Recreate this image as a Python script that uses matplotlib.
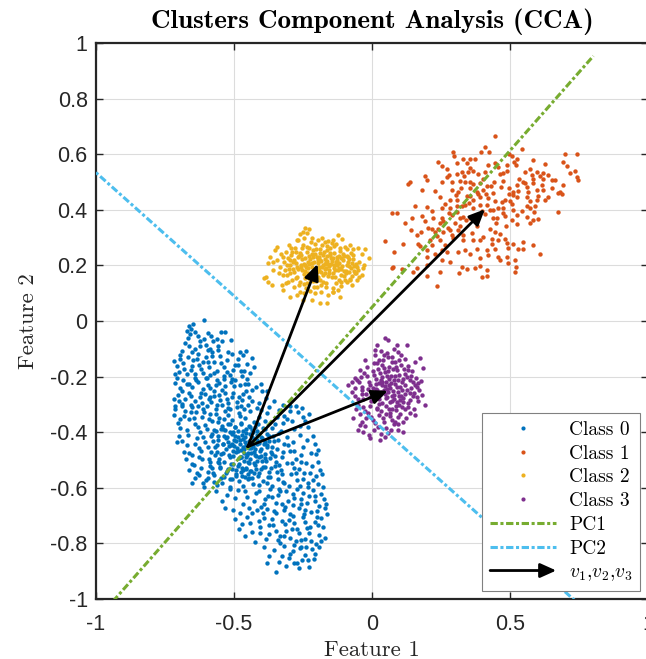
import numpy as np
import matplotlib
matplotlib.use("Agg")
import matplotlib.pyplot as plt
from matplotlib.lines import Line2D
from matplotlib.patches import FancyArrowPatch
from matplotlib.legend_handler import HandlerBase

plt.rcParams['mathtext.fontset'] = 'cm'
plt.rcParams['axes.unicode_minus'] = False

# ---------------- data ----------------
class0_xy = [
    (-0.662,-0.018),(-0.655,-0.028),(-0.671,-0.035),(-0.648,-0.012),(-0.641,-0.041),(-0.659,-0.047),(-0.608,0.004),(-0.632,-0.055),
    (-0.596,-0.043),(-0.548,-0.039),(-0.531,-0.040),(-0.584,-0.054),(-0.609,-0.066),(-0.676,-0.078),(-0.662,-0.091),(-0.624,-0.090),
    (-0.601,-0.085),(-0.558,-0.090),(-0.512,-0.070),(-0.542,-0.073),(-0.588,-0.101),(-0.690,-0.108),(-0.478,-0.111),(-0.640,-0.100),(-0.575,-0.072),
    (-0.717,-0.145),(-0.708,-0.162),(-0.694,-0.122),(-0.683,-0.151),(-0.668,-0.128),(-0.655,-0.176),(-0.647,-0.139),(-0.632,-0.118),
    (-0.627,-0.158),(-0.611,-0.187),(-0.603,-0.131),(-0.592,-0.164),(-0.579,-0.112),(-0.571,-0.146),(-0.562,-0.181),(-0.549,-0.127),
    (-0.538,-0.166),(-0.527,-0.140),(-0.516,-0.193),(-0.506,-0.117),(-0.498,-0.158),(-0.487,-0.137),(-0.475,-0.179),(-0.466,-0.121),
    (-0.452,-0.153),(-0.441,-0.188),(-0.436,-0.134),(-0.428,-0.166),(-0.472,-0.198),(-0.586,-0.196),(-0.641,-0.192),(-0.699,-0.185),
    (-0.557,-0.105),(-0.618,-0.172),(-0.538,-0.199),(-0.503,-0.175),(-0.672,-0.190),(-0.521,-0.111),(-0.455,-0.108),(-0.595,-0.149),
    (-0.683,-0.214),(-0.527,-0.281),(-0.611,-0.243),(-0.452,-0.207),(-0.703,-0.266),(-0.566,-0.229),(-0.489,-0.293),(-0.641,-0.288),
    (-0.398,-0.251),(-0.714,-0.223),(-0.545,-0.247),(-0.597,-0.206),(-0.468,-0.262),(-0.662,-0.258),(-0.512,-0.218),(-0.433,-0.289),
    (-0.622,-0.274),(-0.689,-0.297),(-0.556,-0.266),(-0.384,-0.276),(-0.631,-0.221),(-0.478,-0.232),(-0.584,-0.291),(-0.696,-0.241),
    (-0.537,-0.209),(-0.419,-0.238),(-0.651,-0.236),(-0.503,-0.258),(-0.573,-0.252),(-0.446,-0.272),(-0.719,-0.279),(-0.605,-0.262),
    (-0.521,-0.296),(-0.672,-0.227),(-0.459,-0.226),(-0.593,-0.231),(-0.408,-0.295),(-0.642,-0.204),(-0.549,-0.285),(-0.496,-0.211),
    (-0.678,-0.279),(-0.617,-0.294),(-0.531,-0.235),(-0.472,-0.284),(-0.561,-0.212),(-0.706,-0.205),(-0.436,-0.247),(-0.587,-0.272),
    (-0.655,-0.268),(-0.509,-0.275),
    (-0.712,-0.318),(-0.664,-0.352),(-0.598,-0.307),(-0.541,-0.388),(-0.483,-0.331),(-0.427,-0.364),(-0.372,-0.309),(-0.318,-0.342),
    (-0.262,-0.377),(-0.694,-0.386),(-0.637,-0.329),(-0.579,-0.361),(-0.522,-0.314),(-0.466,-0.396),(-0.409,-0.346),(-0.353,-0.371),
    (-0.297,-0.323),(-0.241,-0.358),(-0.681,-0.341),(-0.622,-0.398),(-0.566,-0.333),(-0.508,-0.357),(-0.451,-0.302),(-0.395,-0.384),
    (-0.338,-0.319),(-0.283,-0.389),(-0.227,-0.336),(-0.703,-0.367),(-0.651,-0.311),(-0.606,-0.374),(-0.553,-0.349),(-0.497,-0.381),
    (-0.441,-0.324),(-0.386,-0.358),(-0.331,-0.394),(-0.276,-0.305),(-0.671,-0.393),(-0.617,-0.344),(-0.561,-0.302),(-0.514,-0.371),
    (-0.459,-0.348),(-0.418,-0.312),(-0.364,-0.386),(-0.307,-0.354),(-0.253,-0.312),(-0.719,-0.339),(-0.643,-0.371),(-0.588,-0.336),
    (-0.531,-0.325),(-0.474,-0.369),(-0.436,-0.392),(-0.379,-0.331),(-0.322,-0.366),(-0.688,-0.304),(-0.629,-0.382),(-0.572,-0.391),
    (-0.489,-0.308),(-0.447,-0.377),(-0.401,-0.321),(-0.345,-0.347),(-0.289,-0.358),(-0.657,-0.329),(-0.536,-0.351),(-0.503,-0.398),
    (-0.462,-0.317),(-0.423,-0.381),(-0.592,-0.353),(-0.611,-0.317),(-0.545,-0.376),(-0.478,-0.342),
    (-0.698,-0.412),(-0.672,-0.447),(-0.651,-0.483),(-0.633,-0.421),(-0.618,-0.468),(-0.604,-0.436),(-0.592,-0.497),(-0.581,-0.408),
    (-0.569,-0.455),(-0.558,-0.428),(-0.546,-0.479),(-0.538,-0.414),(-0.529,-0.462),(-0.521,-0.437),(-0.513,-0.491),(-0.506,-0.405),
    (-0.499,-0.449),(-0.492,-0.472),(-0.486,-0.418),(-0.479,-0.441),(-0.473,-0.488),(-0.468,-0.426),(-0.462,-0.459),(-0.457,-0.403),
    (-0.451,-0.474),(-0.446,-0.432),(-0.441,-0.496),(-0.436,-0.417),(-0.430,-0.451),(-0.424,-0.483),(-0.418,-0.409),(-0.411,-0.438),
    (-0.404,-0.466),(-0.397,-0.422),(-0.389,-0.494),(-0.381,-0.445),(-0.372,-0.413),(-0.364,-0.477),(-0.355,-0.431),(-0.346,-0.459),
    (-0.337,-0.404),(-0.327,-0.488),(-0.318,-0.442),(-0.308,-0.418),(-0.297,-0.467),(-0.286,-0.434),(-0.274,-0.496),(-0.262,-0.411),
    (-0.249,-0.454),(-0.236,-0.428),(-0.221,-0.476),(-0.206,-0.441),(-0.194,-0.463),
    (-0.512,-0.447),(-0.488,-0.458),(-0.471,-0.409),(-0.455,-0.488),(-0.447,-0.458),(-0.433,-0.438),(-0.423,-0.462),(-0.415,-0.428),
    (-0.494,-0.431),(-0.503,-0.468),(-0.476,-0.463),(-0.459,-0.435),(-0.482,-0.493),(-0.527,-0.418),(-0.541,-0.442),(-0.562,-0.470),
    (-0.575,-0.431),(-0.596,-0.452),(-0.612,-0.417),(-0.641,-0.442),(-0.664,-0.474),(-0.687,-0.431),(-0.401,-0.487),(-0.387,-0.436),
    (-0.361,-0.452),(-0.341,-0.427),(-0.322,-0.471),(-0.303,-0.446),(-0.281,-0.468),(-0.256,-0.483),(-0.439,-0.474),(-0.465,-0.474),
    (-0.517,-0.482),(-0.554,-0.498),(-0.626,-0.491),(-0.675,-0.498),(-0.368,-0.494),
    (-0.652,-0.513),(-0.633,-0.547),(-0.618,-0.528),(-0.601,-0.571),(-0.587,-0.506),(-0.574,-0.553),(-0.561,-0.589),(-0.549,-0.524),
    (-0.537,-0.561),(-0.526,-0.538),(-0.514,-0.597),(-0.503,-0.515),(-0.492,-0.549),(-0.481,-0.577),(-0.471,-0.527),(-0.461,-0.562),
    (-0.451,-0.508),(-0.441,-0.541),(-0.432,-0.586),(-0.423,-0.519),(-0.413,-0.556),(-0.403,-0.531),(-0.394,-0.574),(-0.384,-0.503),
    (-0.374,-0.544),(-0.364,-0.592),(-0.353,-0.523),(-0.342,-0.567),(-0.331,-0.536),(-0.319,-0.581),(-0.307,-0.512),(-0.295,-0.552),
    (-0.283,-0.529),(-0.271,-0.571),(-0.258,-0.507),(-0.245,-0.546),(-0.232,-0.583),(-0.218,-0.521),(-0.204,-0.559),(-0.189,-0.536),
    (-0.612,-0.582),(-0.578,-0.527),(-0.544,-0.583),(-0.509,-0.568),(-0.486,-0.521),(-0.467,-0.593),(-0.446,-0.564),(-0.428,-0.547),
    (-0.409,-0.589),(-0.389,-0.524),(-0.369,-0.562),(-0.348,-0.508),(-0.326,-0.551),(-0.302,-0.594),(-0.277,-0.548),(-0.251,-0.568),
    (-0.225,-0.548),(-0.197,-0.588),(-0.642,-0.566),(-0.596,-0.542),(-0.556,-0.511),(-0.521,-0.531),(-0.457,-0.531),(-0.418,-0.502),
    (-0.381,-0.583),(-0.337,-0.517),(-0.289,-0.511),(-0.262,-0.592),(-0.238,-0.512),(-0.476,-0.544),
    (-0.566,-0.612),(-0.543,-0.648),(-0.524,-0.627),(-0.505,-0.681),(-0.487,-0.609),(-0.469,-0.659),(-0.452,-0.634),(-0.436,-0.692),
    (-0.419,-0.617),(-0.403,-0.668),(-0.387,-0.642),(-0.371,-0.603),(-0.356,-0.683),(-0.341,-0.626),(-0.326,-0.657),(-0.311,-0.613),
    (-0.296,-0.694),(-0.281,-0.638),(-0.266,-0.671),(-0.251,-0.619),(-0.236,-0.653),(-0.221,-0.687),(-0.206,-0.628),(-0.191,-0.664),
    (-0.175,-0.641),(-0.163,-0.696),(-0.532,-0.673),(-0.497,-0.638),(-0.461,-0.612),(-0.428,-0.649),(-0.394,-0.692),(-0.364,-0.632),
    (-0.333,-0.611),(-0.304,-0.647),(-0.273,-0.606),(-0.244,-0.679),(-0.213,-0.607),(-0.184,-0.621),(-0.479,-0.691),(-0.411,-0.611),
    (-0.379,-0.676),(-0.348,-0.655),(-0.318,-0.681),(-0.287,-0.663),(-0.258,-0.641),(-0.229,-0.628),(-0.199,-0.682),(-0.444,-0.672),
    (-0.513,-0.606),(-0.171,-0.672),
    (-0.497,-0.713),(-0.482,-0.748),(-0.461,-0.773),(-0.443,-0.727),(-0.424,-0.796),(-0.407,-0.742),(-0.391,-0.708),(-0.374,-0.766),
    (-0.357,-0.734),(-0.341,-0.789),(-0.326,-0.719),(-0.311,-0.754),(-0.296,-0.781),(-0.281,-0.728),(-0.266,-0.761),(-0.251,-0.706),
    (-0.236,-0.744),(-0.221,-0.792),(-0.206,-0.722),(-0.191,-0.768),(-0.178,-0.741),(-0.434,-0.759),(-0.384,-0.783),(-0.348,-0.757),
    (-0.316,-0.731),(-0.288,-0.703),(-0.258,-0.786),(-0.229,-0.764),(-0.199,-0.704),(-0.172,-0.779),(-0.472,-0.731),(-0.411,-0.718),
    (-0.334,-0.799),(-0.273,-0.747),(-0.244,-0.723),
    (-0.393,-0.812),(-0.372,-0.846),(-0.355,-0.823),(-0.349,-0.903),(-0.336,-0.868),(-0.318,-0.809),(-0.302,-0.851),(-0.288,-0.829),
    (-0.273,-0.872),(-0.259,-0.814),(-0.244,-0.843),(-0.231,-0.861),(-0.218,-0.821),(-0.205,-0.839),(-0.192,-0.812),(-0.266,-0.889),
    (-0.229,-0.884),(-0.312,-0.882),(-0.381,-0.871),(-0.284,-0.805),
    (-0.547,-0.388),(-0.463,-0.502),(-0.412,-0.371),(-0.528,-0.547),(-0.381,-0.452),(-0.496,-0.412),(-0.569,-0.481),(-0.437,-0.539),
    (-0.402,-0.418),(-0.474,-0.366),(-0.519,-0.451),(-0.455,-0.447),(-0.366,-0.528),(-0.583,-0.415),(-0.431,-0.398),(-0.507,-0.532),
    (-0.448,-0.569),(-0.389,-0.387),(-0.536,-0.506),(-0.479,-0.428),(-0.421,-0.487),(-0.558,-0.362),(-0.377,-0.561),(-0.491,-0.556),
    (-0.443,-0.381),(-0.515,-0.398),(-0.466,-0.536),(-0.397,-0.503),(-0.552,-0.527),(-0.428,-0.423),(-0.484,-0.469),(-0.358,-0.413),
    (-0.539,-0.443),(-0.458,-0.389),(-0.409,-0.545),(-0.575,-0.546),(-0.502,-0.487),(-0.447,-0.511),(-0.386,-0.477),(-0.523,-0.372),
    (-0.469,-0.452),(-0.416,-0.443),(-0.351,-0.487),(-0.563,-0.447),(-0.498,-0.381),(-0.433,-0.566),(-0.481,-0.513),(-0.402,-0.462),
    (-0.541,-0.476),(-0.452,-0.481),(-0.372,-0.431),(-0.511,-0.516),(-0.427,-0.512),(-0.487,-0.397),(-0.557,-0.506),(-0.439,-0.458),
    (-0.394,-0.525),(-0.529,-0.421),(-0.472,-0.558),(-0.418,-0.396),(-0.346,-0.543),(-0.583,-0.472),(-0.506,-0.442),(-0.461,-0.418),
    (-0.381,-0.406),(-0.548,-0.563),(-0.493,-0.537),(-0.426,-0.471),(-0.366,-0.471),(-0.515,-0.567),(-0.456,-0.527),(-0.408,-0.488),
    (-0.533,-0.392),(-0.476,-0.491),(-0.442,-0.407),(-0.391,-0.442),(-0.565,-0.395),(-0.501,-0.428),(-0.448,-0.551),(-0.422,-0.531),
    (-0.668,-0.061),(-0.623,-0.072),(-0.578,-0.125),(-0.694,-0.138),(-0.651,-0.161),(-0.603,-0.205),(-0.547,-0.152),(-0.508,-0.208),
    (-0.712,-0.192),(-0.664,-0.228),(-0.619,-0.258),(-0.571,-0.187),(-0.532,-0.259),(-0.487,-0.157),(-0.458,-0.253),(-0.701,-0.288),
    (-0.656,-0.302),(-0.608,-0.328),(-0.565,-0.317),(-0.521,-0.337),(-0.482,-0.272),(-0.687,-0.251),(-0.638,-0.211),(-0.588,-0.242),
    (-0.553,-0.224),(-0.499,-0.235),(-0.463,-0.181),(-0.676,-0.325),(-0.629,-0.305),(-0.591,-0.281),(-0.545,-0.302),(-0.714,-0.305),
    (-0.682,-0.172),(-0.635,-0.137),(-0.596,-0.103),(-0.561,-0.066),(-0.525,-0.183),(-0.448,-0.228),(-0.652,-0.112),(-0.612,-0.147),
    (-0.573,-0.271),(-0.514,-0.318),(-0.474,-0.305),(-0.696,-0.354),(-0.645,-0.348),(-0.598,-0.387),(-0.557,-0.413),(-0.706,-0.436),
    (-0.668,-0.409),(-0.626,-0.457),(-0.681,-0.471),(-0.644,-0.519),(-0.617,-0.497),(-0.586,-0.523),(-0.663,-0.537),(-0.627,-0.553),
    (-0.594,-0.566),(-0.651,-0.584),(-0.608,-0.598),(-0.572,-0.578),
    (-0.338,-0.603),(-0.287,-0.622),(-0.233,-0.598),(-0.314,-0.668),(-0.259,-0.657),(-0.208,-0.646),(-0.361,-0.712),(-0.302,-0.717),
    (-0.247,-0.695),(-0.196,-0.734),(-0.333,-0.773),(-0.276,-0.792),(-0.224,-0.742),(-0.185,-0.791),(-0.298,-0.837),(-0.252,-0.861),
    (-0.211,-0.857),(-0.377,-0.629),(-0.321,-0.578),(-0.265,-0.533),(-0.213,-0.573),(-0.392,-0.658),(-0.347,-0.689),(-0.291,-0.747),
    (-0.238,-0.812),(-0.418,-0.681),(-0.373,-0.734),(-0.318,-0.775),(-0.262,-0.818),(-0.452,-0.706),(-0.406,-0.762),(-0.327,-0.846),
    (-0.281,-0.869),(-0.243,-0.783),(-0.203,-0.801),(-0.183,-0.708),(-0.167,-0.658),(-0.176,-0.598),(-0.182,-0.552),(-0.194,-0.506),
    (-0.203,-0.478),(-0.215,-0.413),(-0.232,-0.382),(-0.251,-0.347),(-0.268,-0.326),(-0.296,-0.307),(-0.322,-0.302),(-0.356,-0.289),
    (-0.381,-0.253),(-0.401,-0.226),
]

class1_xy = [
    (0.446,0.667),(0.409,0.625),(0.425,0.607),(0.394,0.607),(0.542,0.620),(0.295,0.607),(0.699,0.602),(0.742,0.602),(0.498,0.600),(0.506,0.595),
    (0.298,0.592),(0.331,0.582),(0.355,0.583),(0.373,0.583),(0.240,0.571),(0.252,0.559),(0.307,0.567),(0.343,0.570),(0.524,0.583),(0.514,0.571),
    (0.582,0.580),(0.421,0.561),(0.446,0.567),(0.458,0.555),(0.626,0.565),(0.693,0.571),(0.705,0.559),(0.490,0.561),
    (0.355,0.549),(0.367,0.541),(0.349,0.535),(0.325,0.535),(0.309,0.529),(0.279,0.525),(0.270,0.517),(0.192,0.523),(0.200,0.507),(0.385,0.529),
    (0.409,0.537),(0.476,0.531),(0.488,0.540),(0.572,0.547),(0.597,0.535),(0.621,0.531),(0.609,0.522),(0.639,0.525),(0.651,0.507),(0.579,0.525),
    (0.548,0.501),(0.717,0.531),(0.736,0.541),(0.744,0.519),(0.748,0.507),(0.663,0.507),(0.585,0.510),
    (0.138,0.501),(0.132,0.493),(0.252,0.499),(0.289,0.501),(0.319,0.504),(0.337,0.499),(0.355,0.499),(0.367,0.493),(0.391,0.495),(0.415,0.486),
    (0.442,0.501),(0.476,0.504),(0.524,0.489),(0.554,0.495),(0.585,0.495),(0.615,0.489),(0.621,0.471),(0.693,0.489),(0.681,0.465),(0.180,0.471),
    (0.228,0.469),(0.289,0.471),(0.313,0.465),(0.355,0.477),(0.379,0.465),(0.403,0.471),(0.440,0.461),(0.498,0.477),(0.512,0.465),(0.530,0.467),
    (0.566,0.465),(0.597,0.471),
    (0.246,0.447),(0.283,0.435),(0.307,0.437),(0.343,0.449),(0.367,0.435),(0.391,0.445),(0.421,0.441),(0.446,0.431),(0.470,0.429),(0.500,0.431),
    (0.512,0.453),(0.560,0.447),(0.597,0.435),(0.627,0.435),(0.675,0.459),(0.687,0.457),(0.156,0.414),(0.198,0.411),(0.252,0.407),(0.283,0.405),
    (0.309,0.413),(0.337,0.417),(0.367,0.407),(0.391,0.417),(0.428,0.399),(0.458,0.405),(0.476,0.408),(0.512,0.399),(0.560,0.413),(0.572,0.405),
    (0.591,0.413),(0.675,0.393),
    (0.071,0.390),(0.092,0.389),(0.144,0.369),(0.180,0.378),(0.222,0.372),(0.252,0.371),(0.289,0.381),(0.319,0.372),(0.331,0.375),(0.355,0.371),
    (0.379,0.378),(0.409,0.384),(0.440,0.369),(0.452,0.369),(0.482,0.377),(0.506,0.365),(0.524,0.381),(0.560,0.375),(0.585,0.365),(0.603,0.366),
    (0.572,0.351),(0.524,0.348),(0.301,0.351),(0.319,0.341),(0.246,0.351),(0.204,0.333),(0.216,0.330),(0.277,0.336),
    (0.228,0.320),(0.234,0.305),(0.258,0.320),(0.283,0.327),(0.313,0.327),(0.289,0.308),(0.331,0.308),(0.391,0.293),(0.403,0.302),(0.446,0.320),
    (0.464,0.314),(0.482,0.296),(0.458,0.290),(0.434,0.296),(0.367,0.293),(0.331,0.290),(0.210,0.290),(0.162,0.308),(0.168,0.278),(0.246,0.290),
    (0.114,0.276),(0.047,0.288),(0.548,0.283),(0.512,0.276),(0.488,0.281),(0.264,0.272),
    (0.174,0.270),(0.198,0.254),(0.216,0.272),(0.252,0.257),(0.337,0.257),(0.379,0.260),(0.415,0.257),(0.446,0.260),(0.494,0.264),(0.530,0.260),
    (0.548,0.260),(0.585,0.272),(0.609,0.242),(0.080,0.248),(0.198,0.230),(0.228,0.242),(0.270,0.248),(0.313,0.248),(0.355,0.240),(0.391,0.228),
    (0.421,0.236),(0.458,0.230),(0.488,0.230),(0.518,0.220),(0.494,0.208),
    (0.071,0.190),(0.076,0.196),(0.107,0.188),(0.162,0.190),(0.198,0.202),(0.252,0.218),(0.283,0.212),(0.325,0.194),(0.343,0.188),(0.373,0.190),
    (0.391,0.199),(0.415,0.182),(0.464,0.220),(0.521,0.194),(0.518,0.176),(0.147,0.176),(0.246,0.178),(0.316,0.172),(0.397,0.158),(0.418,0.161),
    (0.200,0.161),(0.237,0.125),
    (0.303,0.452),(0.352,0.423),(0.412,0.458),(0.467,0.481),(0.533,0.511),(0.278,0.389),(0.341,0.362),(0.398,0.397),(0.451,0.352),(0.509,0.422),
    (0.562,0.482),(0.618,0.512),(0.238,0.331),(0.294,0.297),(0.363,0.317),(0.427,0.332),(0.486,0.341),(0.543,0.394),(0.603,0.451),(0.652,0.478),
    (0.264,0.421),(0.324,0.477),(0.385,0.458),(0.431,0.487),(0.482,0.437),(0.571,0.431),(0.637,0.447),(0.218,0.396),(0.309,0.391),(0.356,0.451),
    (0.417,0.419),(0.473,0.389),(0.527,0.446),(0.588,0.392),(0.191,0.358),(0.259,0.361),(0.326,0.413),(0.382,0.341),(0.438,0.398),(0.497,0.458),
    (0.553,0.537),(0.271,0.547),(0.334,0.521),(0.403,0.512),(0.463,0.528),(0.523,0.562),(0.178,0.321),(0.141,0.326),(0.121,0.351),(0.436,0.278),
]

class2_xy = [
    (-0.243,0.335),(-0.227,0.331),(-0.249,0.321),(-0.234,0.315),(-0.219,0.297),(-0.261,0.312),(-0.267,0.291),(-0.182,0.300),(-0.170,0.285),
    (-0.146,0.279),(-0.122,0.309),(-0.110,0.295),(-0.140,0.291),(-0.080,0.273),(-0.068,0.259),(-0.050,0.261),(-0.025,0.258),(-0.011,0.225),
    (-0.037,0.240),(-0.345,0.267),(-0.351,0.255),(-0.370,0.231),(-0.357,0.213),(-0.376,0.207),(-0.384,0.159),(-0.391,0.153),(-0.376,0.141),
    (-0.364,0.129),(-0.327,0.129),(-0.321,0.111),(-0.297,0.087),(-0.273,0.093),(-0.249,0.075),(-0.219,0.075),(-0.188,0.063),(-0.164,0.063),
    (-0.116,0.087),(-0.140,0.105),(-0.092,0.141),(-0.074,0.129),(-0.056,0.147),(-0.050,0.183),(-0.031,0.189),(-0.062,0.171),
    (-0.312,0.248),(-0.296,0.219),(-0.287,0.187),(-0.279,0.262),(-0.271,0.158),(-0.264,0.234),(-0.257,0.201),(-0.251,0.272),(-0.246,0.132),
    (-0.241,0.179),(-0.236,0.247),(-0.231,0.214),(-0.226,0.151),(-0.221,0.283),(-0.217,0.196),(-0.212,0.231),(-0.207,0.167),(-0.203,0.259),
    (-0.198,0.122),(-0.194,0.208),(-0.189,0.243),(-0.185,0.178),(-0.181,0.274),(-0.176,0.141),(-0.172,0.224),(-0.167,0.192),(-0.163,0.257),
    (-0.158,0.163),(-0.153,0.236),(-0.148,0.205),(-0.143,0.118),(-0.138,0.268),(-0.133,0.182),(-0.127,0.221),(-0.121,0.149),(-0.115,0.251),
    (-0.108,0.197),(-0.101,0.233),(-0.094,0.172),(-0.086,0.214),(-0.077,0.189),(-0.068,0.238),(-0.059,0.205),
    (-0.335,0.193),(-0.322,0.167),(-0.318,0.211),(-0.305,0.141),(-0.301,0.273),(-0.293,0.236),(-0.284,0.121),(-0.276,0.209),(-0.268,0.188),
    (-0.261,0.103),(-0.253,0.222),(-0.248,0.169),(-0.243,0.201),(-0.233,0.189),(-0.228,0.235),(-0.223,0.109),(-0.219,0.172),(-0.214,0.256),
    (-0.209,0.213),(-0.205,0.187),(-0.201,0.232),(-0.196,0.158),(-0.191,0.196),(-0.187,0.221),(-0.183,0.131),(-0.178,0.203),(-0.174,0.249),
    (-0.169,0.174),(-0.165,0.212),(-0.161,0.093),(-0.156,0.197),(-0.151,0.263),(-0.146,0.159),(-0.141,0.227),(-0.136,0.201),(-0.131,0.136),
    (-0.124,0.182),(-0.118,0.235),(-0.112,0.165),(-0.105,0.219),(-0.098,0.147),(-0.091,0.258),(-0.083,0.198),(-0.073,0.162),(-0.064,0.181),
    (-0.046,0.214),(-0.038,0.167),(-0.029,0.203),
    (-0.344,0.221),(-0.328,0.241),(-0.315,0.183),(-0.307,0.203),(-0.298,0.173),(-0.289,0.249),(-0.281,0.219),(-0.273,0.195),(-0.262,0.245),
    (-0.255,0.183),(-0.244,0.228),(-0.238,0.193),(-0.229,0.261),(-0.216,0.207),(-0.208,0.242),(-0.199,0.176),(-0.192,0.229),(-0.182,0.195),
    (-0.171,0.206),(-0.162,0.233),(-0.154,0.184),(-0.145,0.215),(-0.137,0.245),(-0.128,0.203),(-0.119,0.191),(-0.111,0.227),(-0.103,0.181),
    (-0.088,0.229),(-0.081,0.146),(-0.071,0.209),(-0.055,0.193),(-0.047,0.159),(-0.262,0.142),(-0.239,0.117),(-0.213,0.143),(-0.186,0.106),
    (-0.167,0.124),(-0.142,0.103),(-0.125,0.113),(-0.289,0.146),(-0.272,0.292),(-0.248,0.298),(-0.197,0.291),(-0.159,0.287),(-0.129,0.276),
    (-0.099,0.266),
    (-0.297,0.201),(-0.241,0.155),(-0.188,0.258),(-0.139,0.191),(-0.083,0.222),(-0.268,0.231),(-0.214,0.179),(-0.162,0.217),(-0.112,0.139),
    (-0.065,0.197),(-0.308,0.165),(-0.252,0.264),(-0.203,0.145),(-0.152,0.243),(-0.096,0.181),(-0.283,0.175),(-0.229,0.206),(-0.176,0.165),
    (-0.121,0.207),(-0.075,0.245),(-0.321,0.229),(-0.266,0.128),(-0.218,0.241),(-0.168,0.138),(-0.117,0.262),(-0.058,0.171),(-0.292,0.262),
    (-0.236,0.137),(-0.184,0.216),(-0.133,0.157),(-0.089,0.201),(-0.313,0.136),(-0.259,0.194),(-0.207,0.278),(-0.155,0.174),(-0.106,0.242),
    (-0.277,0.155),(-0.224,0.224),(-0.171,0.188),(-0.126,0.229),(-0.079,0.152),(-0.336,0.172),(-0.286,0.214),(-0.232,0.172),(-0.193,0.183),
    (-0.148,0.228),(-0.102,0.163),(-0.256,0.239),(-0.211,0.124),(-0.158,0.205),(-0.113,0.187),(-0.069,0.222),(-0.299,0.187),(-0.246,0.206),
    (-0.197,0.219),(-0.143,0.173),(-0.092,0.235),(-0.274,0.249),(-0.227,0.153),(-0.179,0.238),(-0.131,0.214),(-0.085,0.175),(-0.304,0.226),
    (-0.235,0.267),(-0.164,0.268),(-0.114,0.127),(-0.188,0.148),(-0.245,0.101),(-0.206,0.099),(-0.358,0.185),
]

class3_xy = [
    (0.047,-0.062),(0.059,-0.068),(0.017,-0.086),(0.089,-0.086),(0.011,-0.104),(0.126,-0.086),(0.156,-0.146),(0.174,-0.134),(0.186,-0.170),
    (0.168,-0.224),(0.192,-0.302),(0.156,-0.338),(0.162,-0.272),(0.114,-0.362),(0.095,-0.392),(0.047,-0.416),(0.029,-0.428),(-0.007,-0.422),
    (-0.031,-0.398),(-0.050,-0.392),(-0.068,-0.350),(-0.043,-0.374),(-0.086,-0.230),(-0.074,-0.218),(-0.062,-0.206),(-0.043,-0.176),
    (-0.025,-0.140),(-0.037,-0.248),(0.059,-0.404),(0.114,-0.398),
    (0.012,-0.121),(0.031,-0.108),(0.054,-0.115),(0.072,-0.129),(0.093,-0.112),(0.118,-0.137),(0.041,-0.141),(0.083,-0.149),(0.006,-0.152),
    (0.131,-0.161),(0.104,-0.158),(-0.017,-0.167),(0.022,-0.172),(0.062,-0.164),(0.146,-0.181),(0.047,-0.183),(0.091,-0.178),(0.121,-0.191),
    (-0.029,-0.188),(0.008,-0.196),(0.035,-0.203),(0.069,-0.199),(0.112,-0.207),(0.138,-0.214),(-0.055,-0.211),(-0.011,-0.218),(0.024,-0.224),
    (0.051,-0.219),(0.083,-0.228),(0.101,-0.236),(0.156,-0.231),(-0.038,-0.239),(0.014,-0.243),(0.042,-0.248),(0.066,-0.241),(0.094,-0.256),
    (0.127,-0.249),(-0.021,-0.262),(0.029,-0.267),(0.056,-0.272),(0.079,-0.265),(0.113,-0.278),(0.147,-0.271),(-0.052,-0.282),(-0.004,-0.289),
    (0.038,-0.294),(0.071,-0.286),(0.098,-0.301),(0.131,-0.296),(-0.031,-0.309),(0.017,-0.314),(0.049,-0.306),(0.086,-0.321),(0.119,-0.317),
    (-0.013,-0.332),(0.027,-0.338),(0.064,-0.343),(0.101,-0.336),(0.004,-0.357),(0.043,-0.362),(0.078,-0.371),(-0.026,-0.376),(0.021,-0.383),
    (0.058,-0.131),(0.106,-0.124),(0.027,-0.139),(0.075,-0.171),(0.002,-0.181),(0.131,-0.175),(0.053,-0.197),(0.095,-0.211),(0.161,-0.204),
    (-0.041,-0.203),(0.037,-0.229),(0.068,-0.223),(0.118,-0.229),(-0.007,-0.231),(0.059,-0.257),(0.089,-0.238),(0.141,-0.242),(0.009,-0.271),
    (0.047,-0.261),(0.106,-0.268),(-0.038,-0.263),(0.081,-0.281),(0.024,-0.298),(0.111,-0.291),(0.061,-0.318),(-0.009,-0.304),(0.093,-0.347),
    (0.034,-0.323),(0.071,-0.356),(0.052,-0.385),(0.013,-0.227),(0.085,-0.197),(0.044,-0.169),(0.019,-0.249),(0.076,-0.251),(0.061,-0.231),
    (0.031,-0.211),(0.099,-0.271),(0.138,-0.258),(0.171,-0.249),(0.167,-0.287),(0.178,-0.216),(0.152,-0.317),(0.136,-0.331),(-0.062,-0.241),
    (-0.071,-0.257),(-0.058,-0.318),(-0.044,-0.336),(-0.023,-0.349),(-0.036,-0.364),(0.006,-0.391),
    (0.036,-0.158),(0.087,-0.166),(0.128,-0.203),(-0.019,-0.197),(0.061,-0.209),(0.107,-0.247),(0.004,-0.241),(0.049,-0.278),(0.091,-0.291),
    (0.136,-0.283),(-0.031,-0.281),(0.019,-0.318),(0.066,-0.331),(0.109,-0.308),(-0.004,-0.346),(0.039,-0.349),(0.084,-0.362),(0.029,-0.187),
    (0.073,-0.147),(0.117,-0.171),(0.149,-0.221),(-0.047,-0.221),(0.011,-0.263),(0.071,-0.268),(0.121,-0.263),(-0.024,-0.323),(0.046,-0.233),
    (0.097,-0.193),(0.153,-0.258),(0.016,-0.207),(0.056,-0.246),(0.086,-0.306),(0.124,-0.348),(-0.015,-0.246),(0.033,-0.254),(0.078,-0.212),
    (0.102,-0.283),(0.064,-0.293),(0.027,-0.281),(-0.009,-0.273),(0.141,-0.197),(0.058,-0.181),(0.018,-0.151),(0.099,-0.142),(0.044,-0.121),
    (0.081,-0.101),(0.049,-0.336),(0.011,-0.366),(0.069,-0.391),(0.031,-0.405),(-0.012,-0.409),(0.095,-0.371),(0.131,-0.309),(-0.049,-0.301),
    (-0.061,-0.271),(0.164,-0.236),(0.181,-0.265),(0.109,-0.221),(0.038,-0.219),(0.074,-0.318),
]

class_labels = ['Class 0', 'Class 1', 'Class 2', 'Class 3']

# principal components (through the overall mean)
pc_mean = [-0.200, -0.176]
pc1_vec = [0.6636, 0.7479]
pc2_vec = [-0.7479, 0.6636]
pc_half_length = 1.51
pc_labels = ['PC1', 'PC2']

# vectors from class-0 centre to the other class centres
arrow_origin = [-0.450, -0.452]
arrow_tip_x = [0.409, -0.197, 0.057]
arrow_tip_y = [0.402, 0.205, -0.251]
arrow_label = r'$v_1$,$v_2$,$v_3$'

x_ticks = [-1, -0.5, 0, 0.5, 1]
x_tick_labels = ['-1', '-0.5', '0', '0.5', '1']
y_ticks = [-1, -0.8, -0.6, -0.4, -0.2, 0, 0.2, 0.4, 0.6, 0.8, 1]
y_tick_labels = ['-1', '-0.8', '-0.6', '-0.4', '-0.2', '0', '0.2', '0.4', '0.6', '0.8', '1']

# ---------------- styles ----------------
class_colors = ['#0072BD', '#D95319', '#EDB120', '#7E2F8E']
pc_colors = ['#77AC30', '#4DBEEE']
pc_dashes = [2.4, 0.85, 1.0, 0.85]
pc_lw = 2.2
axis_color = '#262626'

fig = plt.figure(figsize=(6.46, 6.59), dpi=100)
ax = fig.add_axes([96 / 646, 60 / 659, 552 / 646, 556 / 659])

for pts, col in zip([class0_xy, class1_xy, class2_xy, class3_xy], class_colors):
    p = np.array(pts)
    ax.scatter(p[:, 0], p[:, 1], s=10, color=col, linewidths=0, zorder=2)

mean = np.array(pc_mean)
for vec, col in zip([pc1_vec, pc2_vec], pc_colors):
    v = np.array(vec)
    seg = np.array([mean - pc_half_length * v, mean + pc_half_length * v])
    ax.plot(seg[:, 0], seg[:, 1], color=col, lw=pc_lw, dashes=pc_dashes, zorder=3)

arrow_style = '-|>,head_length=0.6,head_width=0.27'
for tx, ty in zip(arrow_tip_x, arrow_tip_y):
    ax.annotate('', xy=(tx, ty), xytext=tuple(arrow_origin),
                arrowprops=dict(arrowstyle=arrow_style, color='k', lw=2.0,
                                shrinkA=0, shrinkB=0, mutation_scale=16),
                zorder=4)

ax.set_xlim(-1, 1)
ax.set_ylim(-1, 1)
ax.set_xticks(x_ticks)
ax.set_yticks(y_ticks)
ax.set_xticklabels(x_tick_labels, fontfamily='Liberation Sans', fontsize=15.5, color=axis_color)
ax.set_yticklabels(y_tick_labels, fontfamily='Liberation Sans', fontsize=15.5, color=axis_color)
ax.tick_params(direction='in', length=5, width=1.0, top=True, right=True, color=axis_color)
ax.tick_params(axis='x', pad=11)
ax.tick_params(axis='y', pad=6)
for sp in ax.spines.values():
    sp.set_linewidth(1.6)
    sp.set_color(axis_color)
ax.grid(True, color='#dcdcdc', lw=0.8)
ax.set_axisbelow(True)

ax.set_title('Clusters Component Analysis (CCA)', fontfamily='cmb10', fontsize=19.5, pad=11, color='k')
ax.set_xlabel('Feature 1', fontfamily='cmr10', fontsize=16.4, color=axis_color, labelpad=4)
ax.set_ylabel('Feature 2', fontfamily='cmr10', fontsize=16.4, color=axis_color, labelpad=9)


class HandlerArrow(HandlerBase):
    def create_artists(self, legend, orig_handle, xdescent, ydescent, width, height, fontsize, trans):
        y = height / 2 - ydescent
        a = FancyArrowPatch((-xdescent, y), (width - xdescent, y),
                            arrowstyle=arrow_style, mutation_scale=16, lw=2.0,
                            color='k', shrinkA=0, shrinkB=0, transform=trans)
        return [a]


handles = [Line2D([], [], marker='o', ms=3, ls='none', color=c, mew=0) for c in class_colors]
handles += [Line2D([], [], color=c, lw=pc_lw, dashes=pc_dashes) for c in pc_colors]
arrow_proxy = Line2D([], [], color='k')
handles.append(arrow_proxy)
labels = class_labels + pc_labels + [arrow_label]

leg = ax.legend(handles, labels, loc='lower right', bbox_to_anchor=(0.9855, 0.0144),
                prop={'family': 'cmr10', 'size': 14}, frameon=True, fancybox=False,
                edgecolor='#808080', framealpha=1, handlelength=3.4, handletextpad=0.65,
                labelspacing=0.3, borderpad=0.4, borderaxespad=0,
                handler_map={arrow_proxy: HandlerArrow()})
leg.get_frame().set_linewidth(0.8)
leg.set_zorder(10)

fig.savefig('out.png', dpi=100)
